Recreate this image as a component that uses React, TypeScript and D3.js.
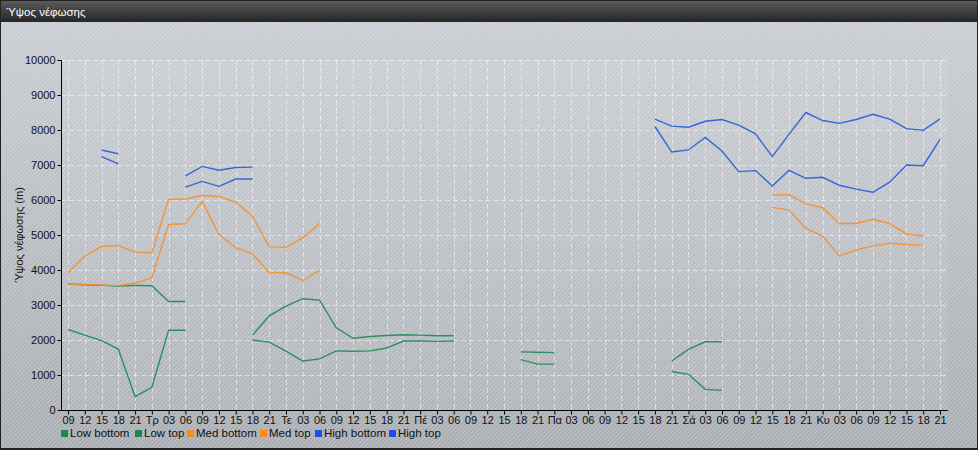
import { useEffect, useRef } from 'react';
import * as d3 from 'd3';

const xLabels = [
  '09', '12', '15', '18', '21',
  'Τρ', '03', '06', '09', '12', '15', '18', '21',
  'Τε', '03', '06', '09', '12', '15', '18', '21',
  'Πέ', '03', '06', '09', '12', '15', '18', '21',
  'Πα', '03', '06', '09', '12', '15', '18', '21',
  'Σά', '03', '06', '09', '12', '15', '18', '21',
  'Κυ', '03', '06', '09', '12', '15', '18', '21',
];

const lowBottom = [
  2300, 2140, 1980, 1740, 380, 650, 2280, 2280,
  null, null, null,
  2000, 1940, 1680, 1400, 1460, 1690, 1680, 1690, 1770, 1970, 1970, 1960, 1970,
  null, null, null,
  1440, 1310, 1310,
  null, null, null, null, null, null,
  1100, 1020, 590, 560,
  null, null, null, null, null, null, null, null, null, null, null, null, null,
];

const lowTop = [
  3600, 3580, 3560, 3540, 3560, 3550, 3100, 3100,
  null, null, null,
  2140, 2690, 2970, 3180, 3140, 2350, 2050, 2100, 2130, 2150, 2140, 2120, 2120,
  null, null, null,
  1660, 1650, 1640,
  null, null, null, null, null, null,
  1400, 1730, 1950, 1950,
  null, null, null, null, null, null, null, null, null, null, null, null, null,
];

const medBottom = [
  3600, 3590, 3570, 3560, 3620, 3780, 5300, 5320, 5960, 5020, 4640, 4460, 3930, 3920, 3700, 3990,
  null, null, null, null, null, null, null, null, null, null, null, null, null,
  null, null, null, null, null, null, null, null, null, null, null, null, null,
  5790, 5710, 5190, 4970, 4400, 4570, 4690, 4760, 4730, 4710,
  null,
];

const medTop = [
  3920, 4400, 4670, 4700, 4510, 4490, 6020, 6030, 6130, 6100, 5940, 5540, 4660, 4650, 4920, 5330,
  null, null, null, null, null, null, null, null, null, null, null, null, null,
  null, null, null, null, null, null, null, null, null, null, null, null, null,
  6140, 6150, 5890, 5780, 5330, 5330, 5450, 5330, 5030, 4970,
  null,
];

const highBottom = [
  null, null, 7240, 7030, null, null, null,
  6370, 6530, 6390, 6600, 6600,
  null, null, null, null, null, null, null, null, null, null, null, null,
  null, null, null, null, null, null, null, null, null, null, null,
  8100, 7370, 7430, 7790, 7400, 6810, 6840, 6400, 6850, 6620, 6650, 6420, 6310, 6220, 6510, 7000, 6980, 7730,
];

const highTop = [
  null, null, 7430, 7320, null, null, null,
  6690, 6960, 6850, 6930, 6940,
  null, null, null, null, null, null, null, null, null, null, null, null,
  null, null, null, null, null, null, null, null, null, null, null,
  8310, 8110, 8080, 8250, 8300, 8140, 7890, 7240, 7880, 8500, 8270, 8190, 8300, 8450, 8310, 8040, 7990, 8320,
];

const seriesNames = ['Low bottom', 'Low top', 'Med bottom', 'Med top', 'High bottom', 'High top'];
const seriesData = [lowBottom, lowTop, medBottom, medTop, highBottom, highTop];
const lineColors = ['#2b8f5e', '#2b8f5e', '#f39536', '#f39536', '#3565dc', '#3565dc'];
const legendColors = ['#1a8a44', '#1a8a44', '#ff8c1a', '#ff8c1a', '#1a4fe8', '#1a4fe8'];
const legendX = [61, 135, 187, 260, 315, 389];
const yTicks = d3.range(0, 10001, 1000);

const W = 978;
const H = 450;
const FONT = '"Liberation Sans", Arial, sans-serif';

export default function App() {
  const svgRef = useRef<SVGSVGElement>(null);

  useEffect(() => {
    if (!svgRef.current) return;
    const svg = d3.select(svgRef.current);
    svg.selectAll('*').remove();

    const defs = svg.append('defs');
    const bg = defs.append('linearGradient').attr('id', 'bodyGrad')
      .attr('x1', 0).attr('y1', 0).attr('x2', 0).attr('y2', 1);
    bg.append('stop').attr('offset', '0%').attr('stop-color', '#c9cdd2');
    bg.append('stop').attr('offset', '100%').attr('stop-color', '#a8acb1');

    const title = defs.append('linearGradient').attr('id', 'titleGrad')
      .attr('x1', 0).attr('y1', 0).attr('x2', 0).attr('y2', 1);
    title.append('stop').attr('offset', '0%').attr('stop-color', '#5a5a5a');
    title.append('stop').attr('offset', '100%').attr('stop-color', '#262626');

    const stripes = defs.append('pattern').attr('id', 'stripes')
      .attr('patternUnits', 'userSpaceOnUse')
      .attr('width', 3).attr('height', 3)
      .attr('patternTransform', 'rotate(45)');
    stripes.append('rect').attr('width', 1).attr('height', 3)
      .attr('fill', '#e6ecf2').attr('opacity', 0.35);

    // background + title bar
    svg.append('rect').attr('x', 0).attr('y', 0).attr('width', W).attr('height', H).attr('fill', '#222');
    svg.append('rect').attr('x', 1).attr('y', 22).attr('width', W - 2).attr('height', H - 24).attr('fill', 'url(#bodyGrad)');
    svg.append('rect').attr('x', 1).attr('y', 22).attr('width', W - 2).attr('height', H - 24).attr('fill', 'url(#stripes)');
    svg.append('rect').attr('x', 1).attr('y', 1).attr('width', W - 2).attr('height', 21).attr('fill', 'url(#titleGrad)');
    svg.append('text').attr('x', 6).attr('y', 16)
      .attr('fill', '#fff').attr('font-family', FONT).attr('font-size', 11.5)
      .text('Ύψος νέφωσης');

    const margin = { left: 61, right: 30, top: 60, bottom: 40 };
    const plotRight = W - margin.right;
    const plotBottom = H - margin.bottom;

    svg.append('rect').attr('x', margin.left).attr('y', margin.top)
      .attr('width', plotRight - margin.left).attr('height', plotBottom - margin.top)
      .attr('fill', '#ffffff').attr('opacity', 0.07);

    const x = d3.scalePoint<number>()
      .domain(d3.range(xLabels.length))
      .range([68, 940]);
    const y = d3.scaleLinear().domain([0, 10000]).range([plotBottom, margin.top]);

    const grid = svg.append('g').attr('stroke', '#ffffff').attr('stroke-opacity', 0.5)
      .attr('stroke-dasharray', '5,3').attr('stroke-width', 1);
    grid.selectAll('line.h').data(yTicks).join('line').attr('class', 'h')
      .attr('x1', margin.left).attr('x2', plotRight)
      .attr('y1', (d) => Math.round(y(d)) + 0.5).attr('y2', (d) => Math.round(y(d)) + 0.5);
    grid.selectAll('line.v').data(d3.range(xLabels.length)).join('line').attr('class', 'v')
      .attr('x1', (d) => Math.round(x(d)!) + 0.5).attr('x2', (d) => Math.round(x(d)!) + 0.5)
      .attr('y1', margin.top).attr('y2', plotBottom);

    const line = d3.line<number | null>()
      .defined((d) => d != null)
      .x((_, i) => x(i)!)
      .y((d) => y(d as number));

    seriesData.forEach((data, k) => {
      svg.append('path').datum(data)
        .attr('fill', 'none')
        .attr('stroke', lineColors[k])
        .attr('stroke-width', 1.4)
        .attr('d', line);
    });

    const yAxis = svg.append('g')
      .attr('transform', `translate(${margin.left + 0.5},0)`)
      .call(d3.axisLeft(y).tickValues(yTicks).tickSize(4).tickPadding(2).tickFormat(d3.format('d')));
    yAxis.select('.domain').attr('stroke', '#000').attr('d', `M0,${margin.top}V${plotBottom}`);
    yAxis.selectAll('text').attr('font-family', FONT).attr('font-size', 11).attr('fill', '#111');

    const xAxis = svg.append('g')
      .attr('transform', `translate(0,${plotBottom + 0.5})`)
      .call(d3.axisBottom(x).tickSize(4).tickPadding(2).tickFormat((i) => xLabels[i as number]));
    xAxis.select('.domain').attr('stroke', '#000').attr('d', `M${margin.left},0H${plotRight}`);
    xAxis.selectAll('text').attr('font-family', FONT).attr('font-size', 11).attr('fill', '#111');

    svg.append('text')
      .attr('transform', `translate(23,${(margin.top + plotBottom) / 2}) rotate(-90)`)
      .attr('text-anchor', 'middle')
      .attr('font-family', FONT).attr('font-size', 11).attr('fill', '#111')
      .text('Ύψος νέφωσης (m)');

    const legend = svg.append('g');
    seriesNames.forEach((name, k) => {
      const g = legend.append('g').attr('transform', `translate(${legendX[k]},433)`);
      g.append('rect').attr('x', 0).attr('y', -3).attr('width', 7).attr('height', 7)
        .attr('fill', legendColors[k]);
      g.append('text').attr('x', 9).attr('y', 4)
        .attr('font-family', FONT).attr('font-size', 11.5).attr('fill', '#111')
        .text(name);
    });
  }, []);

  return (
    <div style={{ width: W, height: H }}>
      <style>{'body{margin:0}'}</style>
      <svg ref={svgRef} width={W} height={H} style={{ display: 'block' }} />
    </div>
  );
}
